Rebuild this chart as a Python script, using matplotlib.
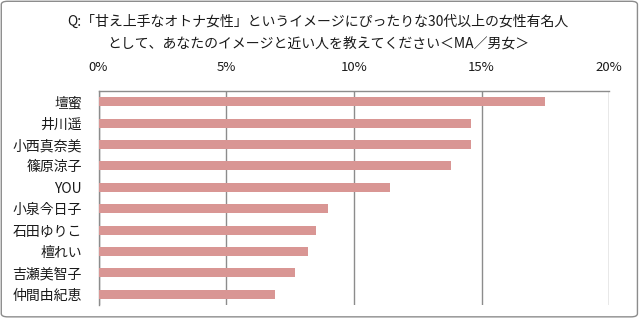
import numpy as np
import matplotlib
matplotlib.use("Agg")
import matplotlib.pyplot as plt
from matplotlib.patches import FancyBboxPatch
from matplotlib.ticker import PercentFormatter

plt.rcParams['font.family'] = ['Noto Sans CJK JP', 'DejaVu Sans']

# data (percent)
names = ["壇蜜", "井川遥", "小西真奈美", "篠原涼子", "YOU",
         "小泉今日子", "石田ゆりこ", "檀れい", "吉瀬美智子", "仲間由紀恵"]
values = [17.5, 14.6, 14.6, 13.8, 11.4, 9.0, 8.5, 8.2, 7.7, 6.9]
title_lines = ["Q:「甘え上手なオトナ女性」というイメージにぴったりな30代以上の女性有名人",
               "として、あなたのイメージと近い人を教えてください＜MA／男女＞"]
xticks = [0, 5, 10, 15, 20]

grid_col = "#8c8c8c"
bar_col = "#d99694"
text_col = "#1a1a1a"

fig = plt.figure(figsize=(6.4, 3.22), dpi=100)
ax = fig.add_axes([0.154, 0.053, 0.798, 0.664])

y = np.arange(len(names))
ax.barh(y, values, height=0.42, color=bar_col, zorder=3)
ax.set_ylim(len(names) - 0.5, -0.5)
ax.set_xlim(0, 20)
ax.set_xticks(xticks)
ax.xaxis.set_major_formatter(PercentFormatter(decimals=0))
ax.set_yticks(y)
ax.set_yticklabels(names)

ax.xaxis.tick_top()
ax.tick_params(axis="x", length=0, pad=12, labelsize=9.5, colors=text_col)
ax.tick_params(axis="y", length=0, pad=12, labelsize=10, colors=text_col)
ax.grid(axis="x", color=grid_col, linewidth=1, zorder=0)

for s in ["bottom", "right"]:
    ax.spines[s].set_visible(False)
for s in ["top", "left"]:
    ax.spines[s].set_color(grid_col)
    ax.spines[s].set_linewidth(1)

fig.text(0.497, 1 - 22 / 322, title_lines[0], ha="center", va="center",
         fontsize=10, color=text_col)
fig.text(0.497, 1 - 44 / 322, title_lines[1], ha="center", va="center",
         fontsize=10, color=text_col)

border = FancyBboxPatch((0.002, 0.016), 0.994, 0.98,
                        boxstyle="round,pad=0,rounding_size=0.01",
                        transform=fig.transFigure, fill=False,
                        edgecolor="#8c8c8c", linewidth=1)
fig.patches.append(border)

fig.savefig("out.png", dpi=100)
